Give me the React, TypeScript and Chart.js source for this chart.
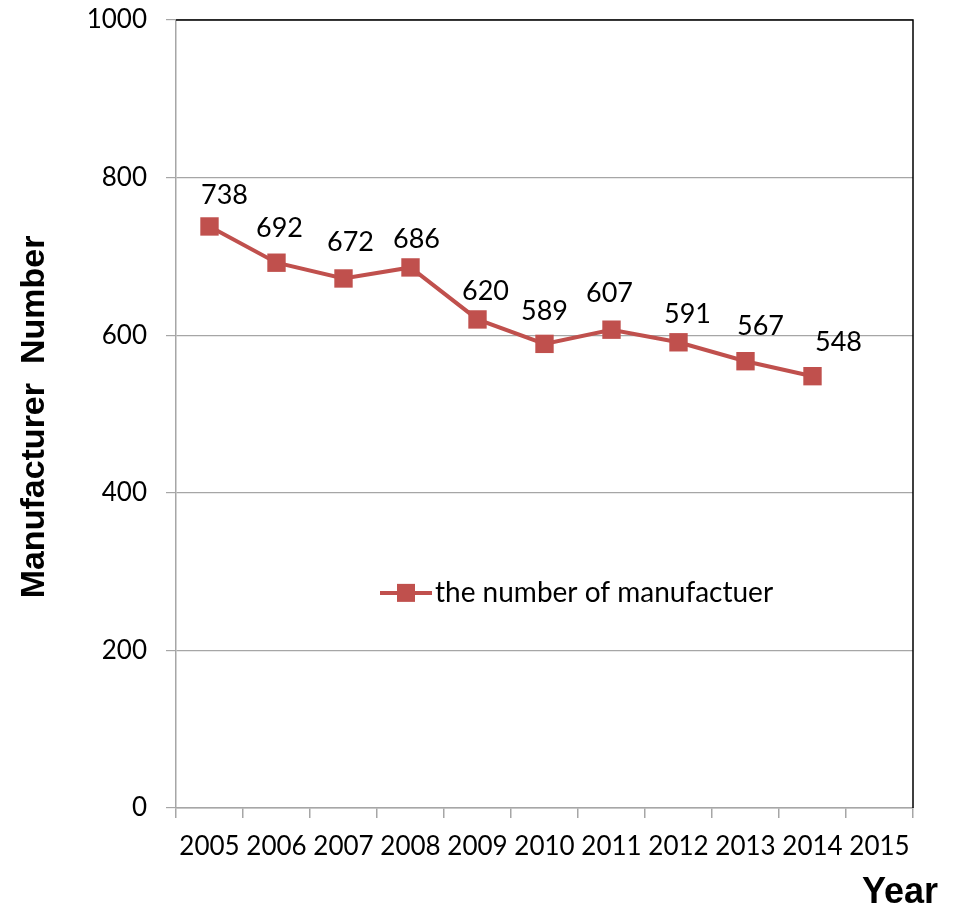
import React, { useEffect, useRef } from "react";
import { Chart, registerables } from "chart.js";

Chart.register(...registerables);

const years = ["2005", "2006", "2007", "2008", "2009", "2010", "2011", "2012", "2013", "2014", "2015"];
const manufacturers: (number | null)[] = [738, 692, 672, 686, 620, 589, 607, 591, 567, 548, null];
const yTicks = [0, 200, 400, 600, 800, 1000];
const seriesName = "the number of manufactuer";
const yTitleA = "Manufacturer";
const yTitleB = "Number";
const xTitle = "Year";
// label offsets (dx, dy) relative to each point, as placed in the original
const labelDx = [15, 3, 7, 6, 8, 0, -2, 9, 15, 26];
const labelDy = [-31, -34, -36, -28, -28, -33, -36, -28, -35, -34];

const RED = "#C0504D";
const GRID = "#A6A6A6";
const FONT = "Lato, 'Open Sans', sans-serif";
const TITLE_FONT = "'Liberation Sans', Arial, sans-serif";

export default function App() {
  const ref = useRef<HTMLCanvasElement | null>(null);

  useEffect(() => {
    document.body.style.margin = "0";
    const canvas = ref.current;
    if (!canvas) return;

    const extras = {
      id: "extras",
      afterDatasetsDraw(chart: any) {
        const ctx = chart.ctx as CanvasRenderingContext2D;
        const area = chart.chartArea;
        ctx.save();
        // black top & right border of plot area
        ctx.strokeStyle = "#000";
        ctx.lineWidth = 1.5;
        ctx.beginPath();
        ctx.moveTo(area.left, area.top);
        ctx.lineTo(area.right, area.top);
        ctx.lineTo(area.right, area.bottom);
        ctx.stroke();

        // data labels
        const meta = chart.getDatasetMeta(0);
        ctx.fillStyle = "#000";
        ctx.font = `27px ${FONT}`;
        ctx.textAlign = "center";
        ctx.textBaseline = "middle";
        meta.data.forEach((pt: any, i: number) => {
          const v = manufacturers[i];
          if (v == null) return;
          ctx.fillText(String(v), pt.x + (labelDx[i] || 0), pt.y + (labelDy[i] || -32));
        });

        // legend (inside plot)
        const lx = 380;
        const ly = chart.scales.y.getPixelForValue(273);
        ctx.strokeStyle = RED;
        ctx.lineWidth = 4;
        ctx.beginPath();
        ctx.moveTo(lx, ly);
        ctx.lineTo(lx + 52, ly);
        ctx.stroke();
        ctx.fillStyle = RED;
        ctx.fillRect(lx + 26 - 9, ly - 9, 18, 18);
        ctx.fillStyle = "#000";
        ctx.font = `28px ${FONT}`;
        ctx.textAlign = "left";
        ctx.fillText(seriesName, lx + 55, ly);

        // axis titles
        ctx.font = `bold 36px ${TITLE_FONT}`;
        ctx.textAlign = "center";
        ctx.textBaseline = "middle";
        ctx.fillText(xTitle, 900, 893);
        ctx.save();
        ctx.font = `bold 34px ${TITLE_FONT}`;
        ctx.translate(35, 417);
        ctx.rotate(-Math.PI / 2);
        ctx.fillText(yTitleA + "  " + yTitleB, 0, 0);
        ctx.restore();
        ctx.restore();
      },
    };

    const chart = new Chart(canvas, {
      type: "line",
      data: {
        labels: years,
        datasets: [
          {
            label: seriesName,
            data: manufacturers,
            borderColor: RED,
            backgroundColor: RED,
            borderWidth: 4,
            pointStyle: "rect",
            pointRadius: 13,
            pointBorderWidth: 0,
            pointBackgroundColor: RED,
            tension: 0,
          },
        ],
      },
      options: {
        animation: false,
        responsive: false,
        devicePixelRatio: 1,
        layout: { padding: { top: 20, right: 40, left: 0, bottom: 0 } },
        plugins: { legend: { display: false }, tooltip: { enabled: false } },
        scales: {
          x: {
            type: "category",
            offset: true,
            grid: {
              offset: true,
              drawOnChartArea: false,
              drawTicks: true,
              tickLength: 10,
              color: GRID,
              lineWidth: 1.5,
            },
            border: { color: GRID, width: 1.5 },
            ticks: { color: "#000", font: { family: FONT, size: 26 }, padding: 13, maxRotation: 0, autoSkip: false },
            afterFit: (s: any) => {
              s.height = 102;
              s.paddingLeft = 0;
              s.paddingRight = 0;
            },
          },
          y: {
            min: 0,
            max: 1000,
            afterBuildTicks: (s: any) => {
              s.ticks = yTicks.map((v) => ({ value: v }));
            },
            grid: { color: GRID, lineWidth: 1.2, tickLength: 10 },
            border: { color: GRID, width: 1.5 },
            ticks: {
              color: "#000",
              font: { family: FONT, size: 26 },
              padding: 19,
              callback: (v: any) => String(v),
            },
            afterFit: (s: any) => {
              s.width = 176;
              s.paddingTop = 0;
              s.paddingBottom = 0;
            },
          },
        },
      },
      plugins: [extras],
    });
    return () => chart.destroy();
  }, []);

  return (
    <div style={{ width: 953, height: 910, background: "#fff" }}>
      <canvas ref={ref} width={953} height={910} style={{ display: "block" }} />
    </div>
  );
}
